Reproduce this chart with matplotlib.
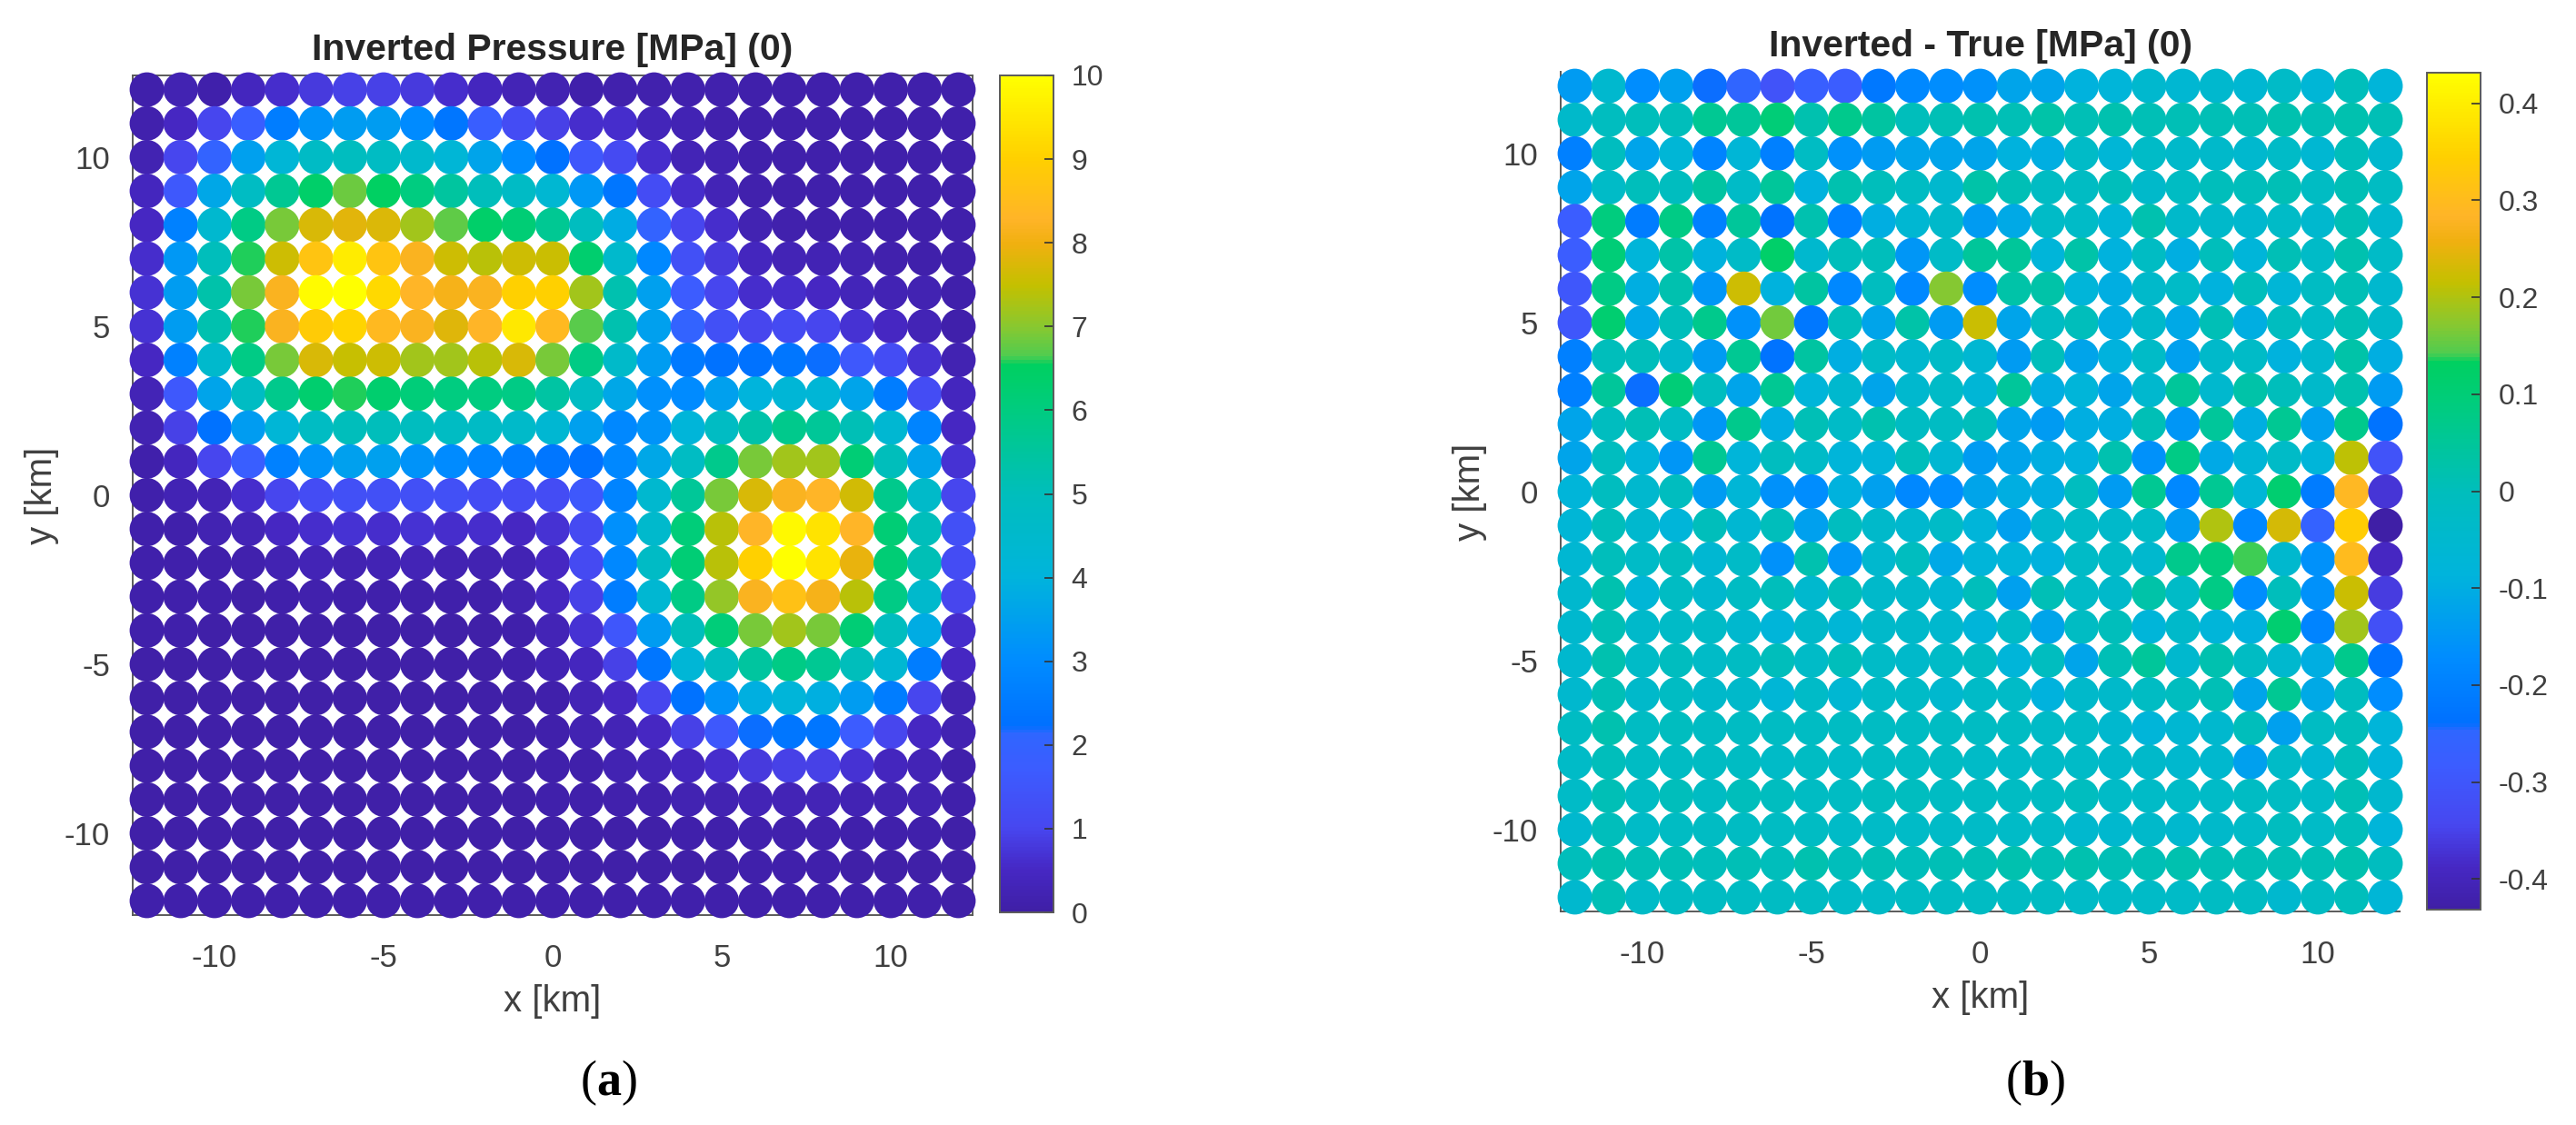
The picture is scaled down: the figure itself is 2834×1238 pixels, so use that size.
import numpy as np
import matplotlib
matplotlib.use('Agg')
import matplotlib.pyplot as plt
from matplotlib.colors import LinearSegmentedColormap

W, H = 2834, 1238

x_km = [-12, -11, -10, -9, -8, -7, -6, -5, -4, -3, -2, -1, 0, 1, 2, 3, 4, 5, 6, 7, 8, 9, 10, 11, 12]
y_km = [12, 11, 10, 9, 8, 7, 6, 5, 4, 3, 2, 1, 0, -1, -2, -3, -4, -5, -6, -7, -8, -9, -10, -11, -12]

# rows run from y=12 down to y=-12, columns from x=-12 to x=12
pressure = [
    [.1, .2, .1, .4, .6, .8, .9, .9, .8, .6, .4, .3, .2, .1, .15, .15, .15, .15, .1, .1, .1, .1, .1, .1, .1],
    [.15, .5, 1.0, 1.8, 2.6, 3.2, 3.4, 3.4, 3.0, 2.4, 1.8, 1.2, .9, .6, .6, .35, .25, .15, .1, .1, .1, .1, .1, .1, .1],
    [.2, 1.0, 2.0, 3.5, 4.2, 4.7, 4.9, 4.8, 4.5, 4.2, 3.6, 3.0, 2.3, 1.5, 1.1, .6, .3, .2, .1, .1, .1, .1, .1, .1, .1],
    [.4, 1.6, 3.7, 4.8, 5.7, 6.4, 6.8, 6.5, 6.0, 5.5, 5.0, 4.7, 4.3, 3.3, 2.4, 1.2, .6, .3, .15, .1, .1, .1, .1, .1, .1],
    [.5, 2.7, 4.4, 5.9, 6.9, 7.7, 7.85, 7.75, 7.2, 6.75, 6.4, 6.2, 5.7, 4.9, 3.8, 2.0, 1.0, .6, .2, .15, .1, .1, .1, .1, .1],
    [.6, 3.3, 5.0, 6.6, 7.6, 8.7, 9.6, 8.7, 8.2, 7.6, 7.4, 7.6, 7.55, 6.3, 4.5, 2.9, 1.3, .8, .4, .3, .25, .2, .15, .1, .1],
    [.7, 3.4, 5.3, 6.9, 8.2, 9.9, 10, 9.2, 8.3, 8.1, 8.2, 9.0, 9.0, 7.2, 5.2, 3.5, 1.7, 1.0, .6, .6, .5, .35, .25, .2, .1],
    [.7, 3.4, 5.2, 6.6, 8.2, 8.9, 9.1, 8.4, 8.2, 7.8, 8.3, 9.5, 8.4, 6.7, 5.2, 3.5, 2.0, 1.3, 1.0, 1.1, 1.0, .7, .5, .3, .1],
    [.5, 2.7, 4.5, 5.9, 6.9, 7.7, 7.5, 7.6, 7.2, 7.2, 7.4, 7.7, 6.9, 5.9, 4.6, 3.4, 2.5, 2.3, 2.3, 2.4, 2.2, 1.6, 1.2, .7, .2],
    [.3, 1.6, 3.6, 4.8, 5.8, 6.3, 6.6, 6.3, 6.1, 6.0, 6.0, 5.9, 5.4, 4.8, 3.7, 3.1, 3.0, 3.5, 4.0, 4.2, 4.2, 3.6, 2.6, 1.2, .4],
    [.2, .9, 2.3, 3.4, 4.2, 4.8, 5.0, 5.0, 4.9, 4.8, 4.7, 4.6, 4.3, 3.5, 2.9, 3.2, 4.1, 4.8, 5.3, 5.8, 5.6, 5.1, 4.3, 2.8, .5],
    [.1, .4, 1.0, 1.8, 2.7, 3.2, 3.5, 3.5, 3.2, 3.0, 2.8, 2.6, 2.4, 2.3, 2.9, 3.7, 4.8, 5.8, 6.9, 7.2, 7.2, 6.2, 5.0, 3.6, .7],
    [.1, .25, .3, .6, 1.0, 1.2, 1.3, 1.3, 1.3, 1.3, 1.2, 1.2, 1.2, 1.6, 2.8, 4.4, 5.6, 6.9, 7.7, 8.2, 8.3, 7.65, 5.8, 4.6, 1.0],
    [.1, .1, .2, .3, .5, .6, .7, .6, .7, .6, .6, .5, .7, 1.1, 3.1, 4.5, 6.1, 7.4, 8.3, 9.85, 9.4, 8.3, 6.2, 5.0, 1.3],
    [.1, .1, .1, .15, .2, .3, .2, .25, .3, .2, .2, .25, .5, 1.1, 2.9, 4.7, 6.2, 7.4, 9.0, 10, 9.4, 7.9, 6.2, 5.1, 1.2],
    [.1, .1, .1, .05, .1, .15, .1, .1, .1, .1, .1, .2, .45, .9, 2.6, 4.3, 5.9, 7.1, 8.2, 8.6, 8.1, 7.4, 5.9, 4.5, 1.0],
    [.1, .1, .05, .05, .05, .05, .05, .05, .05, .05, .05, .1, .3, .7, 1.5, 3.4, 5.0, 6.1, 6.9, 7.2, 6.9, 6.2, 4.9, 3.8, .6],
    [.05, .05, .05, .05, .05, .05, .05, .05, .05, .05, .05, .1, .25, .4, .9, 2.4, 4.2, 4.9, 5.5, 5.9, 5.7, 5.0, 4.3, 2.6, .5],
    [.05, .05, .05, .05, .05, .05, .05, .05, .05, .05, .05, .05, .1, .3, .5, 1.0, 2.3, 3.2, 3.9, 4.1, 3.9, 3.4, 2.6, 1.0, .2],
    [.05, .05, .05, .05, .05, .05, .05, .05, .05, .05, .05, .05, .1, .2, .3, .5, .9, 1.6, 2.2, 2.4, 2.4, 1.7, 1.0, .5, .2],
    [.05, .05, .05, .05, .05, .05, .05, .05, .05, .05, .05, .05, .1, .1, .2, .3, .4, .6, .8, .9, .9, .7, .4, .3, .1],
    [.05, .05, .05, .05, .05, .05, .05, .05, .05, .05, .05, .05, .1, .1, .15, .15, .2, .2, .3, .3, .3, .25, .2, .2, .1],
    [.05, .05, .05, .05, .05, .05, .05, .05, .05, .05, .05, .05, .05, .05, .05, .05, .1, .1, .15, .15, .15, .1, .1, .1, .05],
    [.05, .05, .05, .05, .05, .05, .05, .05, .05, .05, .05, .05, .05, .05, .05, .05, .05, .05, .1, .1, .1, .05, .05, .05, .05],
    [.1, .1, .1, .1, .1, .1, .1, .1, .1, .1, .1, .1, .1, .1, .1, .1, .1, .1, .1, .1, .1, .1, .1, .1, .05],
]

misfit = [
    [-.14, -.05, -.17, -.13, -.24, -.25, -.31, -.27, -.28, -.22, -.18, -.17, -.16, -.12, -.12, -.09, -.08, -.05, -.06, -.05, -.06, -.03, -.07, 0, -.08],
    [-.04, -.01, 0, 0, .06, .05, .1, .02, .07, .04, 0, .01, .02, .01, .03, .01, .02, .01, .01, .01, .01, .02, .01, .02, .01],
    [-.2, -.01, -.12, -.07, -.19, -.07, -.2, -.02, -.16, -.14, -.12, -.12, -.12, -.09, -.1, -.03, -.07, -.03, -.04, -.04, -.05, -.03, -.06, 0, -.05],
    [-.12, -.03, 0, -.01, .04, -.03, .05, -.09, .02, 0, -.02, -.05, .03, .01, -.02, -.02, 0, -.04, -.02, 0, 0, .01, -.02, .01, -.02],
    [-.28, .09, -.21, .08, -.2, .05, -.23, .02, -.2, -.1, -.06, -.04, -.14, -.11, -.03, -.03, -.07, .02, -.04, -.04, -.05, -.03, -.05, .01, -.05],
    [-.28, .1, -.08, .03, -.09, -.03, .12, -.05, 0, 0, -.15, -.03, .05, .05, -.08, .03, -.09, -.02, -.1, 0, -.08, .01, -.03, .02, -.03],
    [-.3, .08, -.1, .02, -.15, .225, -.09, .04, -.18, -.01, -.18, .17, -.17, .03, .03, -.08, -.1, -.04, -.03, -.09, 0, -.07, -.02, .01, -.05],
    [-.3, .11, -.11, 0, .07, -.16, .16, -.22, 0, -.12, .03, -.14, .22, -.12, -.02, 0, -.1, -.04, -.11, .01, -.1, -.01, -.03, .01, -.04],
    [-.2, 0, 0, -.04, -.14, .06, -.23, .04, -.1, -.03, -.05, -.03, -.06, -.14, 0, -.12, -.09, -.03, -.13, -.04, -.03, -.09, -.05, .03, -.1],
    [-.2, .05, -.24, .1, -.01, -.12, .06, -.08, -.05, -.12, -.05, -.03, -.07, .05, -.1, -.08, -.12, -.05, .05, -.05, .03, 0, -.04, .02, -.14],
    [-.12, -.01, .01, -.02, -.15, .07, -.1, .01, -.03, .02, -.02, -.02, 0, -.12, -.14, -.1, -.1, .01, -.15, .05, -.1, .06, -.13, .07, -.23],
    [-.12, -.01, -.08, -.15, .06, -.08, -.01, -.03, -.08, -.08, 0, -.06, -.14, -.12, -.1, -.09, .02, -.16, .08, -.11, -.07, -.03, -.08, .21, -.31],
    [-.08, -.01, -.05, -.01, -.14, -.07, -.16, -.17, -.09, -.13, -.18, -.17, -.12, -.1, -.1, -.01, -.14, .06, -.18, .06, -.07, .11, -.21, .29, -.37],
    [-.07, 0, -.05, -.08, 0, -.06, 0, -.13, -.01, -.04, -.05, -.03, -.08, -.13, -.05, -.03, -.04, -.03, -.14, .2, -.18, .23, -.26, .34, -.43],
    [-.06, 0, -.03, -.01, -.06, -.03, -.16, .02, -.15, -.05, -.01, -.11, -.08, -.08, -.09, -.03, -.03, -.05, .07, .09, .14, -.05, -.16, .3, -.39],
    [-.05, .02, -.07, -.02, -.05, -.02, 0, -.05, 0, -.04, -.04, -.06, 0, -.13, .01, -.03, -.04, .03, -.03, .08, -.17, 0, -.16, .22, -.36],
    [-.05, .01, -.04, -.03, -.03, -.05, -.08, -.04, -.07, -.04, -.04, -.05, -.08, -.03, -.12, -.02, 0, -.08, -.04, -.08, -.09, .11, -.19, .19, -.32],
    [-.05, .02, -.03, -.01, -.03, -.02, 0, -.03, 0, -.03, -.04, -.03, -.02, -.08, -.01, -.12, .01, .05, -.05, .02, -.02, -.05, -.1, .07, -.23],
    [-.05, .01, -.04, -.02, -.04, -.04, -.07, -.03, -.06, -.03, -.03, -.05, -.03, -.03, -.09, -.04, -.04, -.02, -.01, .01, -.12, .06, -.11, -.01, -.17],
    [-.02, .02, -.02, -.01, -.02, -.02, -.02, -.02, -.02, -.02, -.02, -.02, -.02, -.02, -.03, -.03, -.05, -.08, -.06, -.05, 0, -.13, -.02, 0, -.08],
    [-.03, 0, -.02, -.02, -.02, -.02, -.03, -.02, -.03, -.02, -.02, -.02, -.03, -.03, -.03, -.03, -.04, -.04, -.05, -.05, -.13, -.03, -.06, 0, -.08],
    [-.03, .01, -.02, 0, -.02, 0, -.01, -.02, -.02, -.01, -.01, -.02, -.02, -.02, -.02, -.01, -.03, -.03, -.03, -.03, -.02, -.02, -.03, .01, -.05],
    [-.05, 0, -.03, -.02, -.02, -.02, -.02, -.02, -.03, -.03, -.03, -.03, -.03, -.03, -.03, -.05, -.05, -.04, -.05, -.04, -.03, -.01, -.03, 0, -.08],
    [0, .02, .01, .01, 0, .01, 0, .02, 0, .01, 0, .01, .01, .02, .01, .02, .01, .01, .02, .01, .01, .01, .01, .02, -.01],
    [-.05, .01, -.03, -.02, -.02, -.02, -.02, -.02, -.03, -.03, -.02, -.02, -.02, -.02, -.02, -.03, -.03, -.03, -.03, -.02, -.02, -.05, -.02, 0, -.07],
]

xy_ticks = [-10, -5, 0, 5, 10]
xy_labels = ['-10', '-5', '0', '5', '10']
pressure_ticks = [0, 1, 2, 3, 4, 5, 6, 7, 8, 9, 10]
pressure_labels = ['0', '1', '2', '3', '4', '5', '6', '7', '8', '9', '10']
misfit_ticks = [-.4, -.3, -.2, -.1, 0, .1, .2, .3, .4]
misfit_labels = ['-0.4', '-0.3', '-0.2', '-0.1', '0', '0.1', '0.2', '0.3', '0.4']

cmap_pos = [0, .05, .10, .17, .212, .222, .30, .40, .50, .60, .655, .665, .70, .75, .80, .83, .90, 1]
cmap_col = ['#3f1fa6', '#4628c4', '#4747f0', '#3c5cff', '#2f66ff', '#0070ff', '#008cff', '#00b4dc',
            '#00bebc', '#00cc80', '#00d060', '#50cc50', '#88c830', '#c4c000', '#f0b010', '#ffb428',
            '#ffcf00', '#ffff00']
CMAP = LinearSegmentedColormap.from_list('inv', list(zip(cmap_pos, cmap_col)), N=256)

TXT = '#404040'
EDGE = '#5a5a5a'
plt.rcParams['font.family'] = ['Liberation Sans', 'DejaVu Sans']
plt.rcParams['mathtext.fontset'] = 'custom'
plt.rcParams['mathtext.bf'] = 'Liberation Serif:bold'
plt.rcParams['mathtext.rm'] = 'Liberation Serif'


def box(fig, x0, y0, x1, y1):
    # pixel box of the reference, y measured from the top
    return fig.add_axes([x0 / W, 1 - y1 / H, (x1 - x0) / W, (y1 - y0) / H])


def panel(fig, ax_box, cax_box, values, vmin, vmax, title, cticks, clabels, full_box):
    ax = box(fig, *ax_box)
    xx, yy = np.meshgrid(x_km, y_km)
    sc = ax.scatter(xx.ravel(), yy.ravel(), c=np.array(values).ravel(), s=750, cmap=CMAP,
                    vmin=vmin, vmax=vmax, linewidths=0, clip_on=False, zorder=3)
    ax.set_xlim(-12.42, 12.42)
    ax.set_ylim(-12.42, 12.42)
    ax.set_xticks(xy_ticks, xy_labels)
    ax.set_yticks(xy_ticks, xy_labels)
    ax.tick_params(direction='in', length=8, width=1, color=EDGE, labelcolor=TXT, labelsize=25, pad=22)
    ax.tick_params(axis='y', pad=18)
    ax.set_xlabel('x [km]', fontsize=29, color=TXT, labelpad=9)
    ax.set_ylabel('y [km]', fontsize=29, color=TXT, labelpad=4)
    ax.set_title(title, fontsize=29.5, fontweight='bold', color='#262626', pad=12)
    for name, sp in ax.spines.items():
        sp.set_color(EDGE)
        sp.set_linewidth(1.4)
        if not full_box and name in ('top', 'right'):
            sp.set_visible(False)
    cax = box(fig, *cax_box)
    cb = fig.colorbar(sc, cax=cax)
    cb.set_ticks(cticks, labels=clabels)
    cb.outline.set_edgecolor(EDGE)
    cb.outline.set_linewidth(1.4)
    cax.tick_params(direction='in', length=7, width=1.2, color='#333333', labelcolor=TXT, labelsize=23, pad=14)
    return ax


fig = plt.figure(figsize=(W / 100, H / 100), dpi=100, facecolor='white')

panel(fig, (146, 83, 1070, 1007), (1100, 83, 1159, 1004), pressure, 0, 10,
      'Inverted Pressure [MPa] (0)', pressure_ticks, pressure_labels, True)
panel(fig, (1717, 79, 2640, 1003), (2670, 80, 2729, 1001), misfit, -.4315, .4315,
      'Inverted - True [MPa] (0)', misfit_ticks, misfit_labels, False)

fig.text(669 / W, 1 - 1192 / H, r'($\mathbf{a}$)', family='Liberation Serif', fontsize=39,
         color='black', ha='center', va='center')
fig.text(2239 / W, 1 - 1192 / H, r'($\mathbf{b}$)', family='Liberation Serif', fontsize=39,
         color='black', ha='center', va='center')

fig.savefig('out.png', dpi=100)
